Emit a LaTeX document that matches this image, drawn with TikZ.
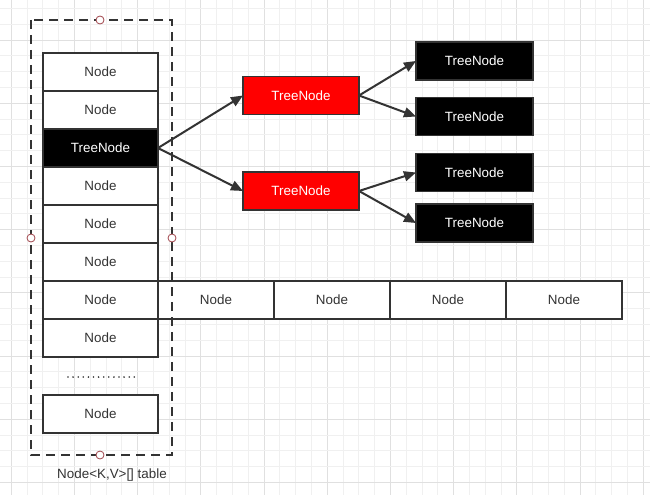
\documentclass[tikz,border=0pt]{standalone}
\usepackage{fontspec}
\setmainfont{Liberation Sans}
\usetikzlibrary{arrows.meta}
\definecolor{ln}{HTML}{333333}
\definecolor{gminor}{HTML}{F0F0F0}
\definecolor{gmajor}{HTML}{E0E0E0}
\definecolor{redfill}{HTML}{FF0000}
\definecolor{handle}{HTML}{A0444A}
\begin{document}
\begin{tikzpicture}[x=1pt,y=-1pt,
  every node/.style={font=\fontsize{13.4}{16}\selectfont},
  cell/.style={draw=ln, line width=1.8pt, fill=white, text=ln, minimum width=115pt, minimum height=38pt, inner sep=0pt, outer sep=0pt},
  rowcell/.style={cell, minimum width=116pt},
  blackcell/.style={cell, fill=black, text=white},
  redcell/.style={cell, fill=redfill, minimum width=116pt, text=white},
  leafcell/.style={cell, fill=black, text=white, minimum width=117pt},
  handlec/.style={circle, draw=handle, fill=white, line width=0.8pt, minimum size=8pt, inner sep=0pt},
  arr/.style={draw=ln, line width=2pt, -{Triangle[length=12pt,width=10pt]}}]
\useasboundingbox (0,0) rectangle (650,495);
\fill[white] (0,0) rectangle (650,495);
% grid
\foreach \k in {0,...,40} {
  \pgfmathtruncatemacro{\m}{mod(\k,4)}
  \ifnum\m=0 \def\gc{gmajor}\else\def\gc{gminor}\fi
  \draw[color=\gc, line width=0.8pt] ({11.1+\k*15.8},0) -- ({11.1+\k*15.8},495);
}
\foreach \k in {0,...,31} {
  \pgfmathtruncatemacro{\m}{mod(\k,4)}
  \ifnum\m=2 \def\gc{gmajor}\else\def\gc{gminor}\fi
  \draw[color=\gc, line width=0.8pt] (0,{8.4+\k*15.8}) -- (650,{8.4+\k*15.8});
}
% column
\node[cell] (c1) at (100.5,72) {Node};
\node[cell] (c2) at (100.5,110) {Node};
\node[blackcell] (tn) at (100.5,148) {TreeNode};
\node[cell] (c4) at (100.5,186) {Node};
\node[cell] (c5) at (100.5,224) {Node};
\node[cell] (c6) at (100.5,262) {Node};
\node[cell] (c7) at (100.5,300) {Node};
\node[cell] (c8) at (100.5,338) {Node};
\node[cell] (c9) at (100.5,414) {Node};
\draw[ln, line width=1.8pt, line cap=round, dash pattern=on 0pt off 5.1pt] (68,377) -- (135,377);
% row
\node[rowcell] (r1) at (216,300) {Node};
\node[rowcell] (r2) at (332,300) {Node};
\node[rowcell] (r3) at (448,300) {Node};
\node[rowcell] (r4) at (564,300) {Node};
% tree
\node[redcell] (t1) at (301,95.5) {TreeNode};
\node[redcell] (t2) at (301,191) {TreeNode};
\node[leafcell] (l1) at (474.5,61) {TreeNode};
\node[leafcell] (l2) at (474.5,116.5) {TreeNode};
\node[leafcell] (l3) at (474.5,172.5) {TreeNode};
\node[leafcell] (l4) at (474.5,223) {TreeNode};
\draw[arr] (tn.east) -- (t1.west);
\draw[arr] (tn.east) -- (t2.west);
\draw[arr] (t1.east) -- (l1.west);
\draw[arr] (t1.east) -- (l2.west);
\draw[arr] (t2.east) -- (l3.west);
\draw[arr] (t2.east) -- (l4.west);
% dashed container (on top)
\draw[ln, line width=2.4pt, dash pattern=on 9pt off 6pt] (31,20) rectangle (172,455);
\node[handlec] (h1) at (100,20) {};
\node[handlec] (h2) at (31,238) {};
\node[handlec] (h3) at (172,238) {};
\node[handlec] (h4) at (100,455) {};
\node[text=ln] (lbl) at (112,475) {Node<K,V>[] table};
\end{tikzpicture}
\end{document}
